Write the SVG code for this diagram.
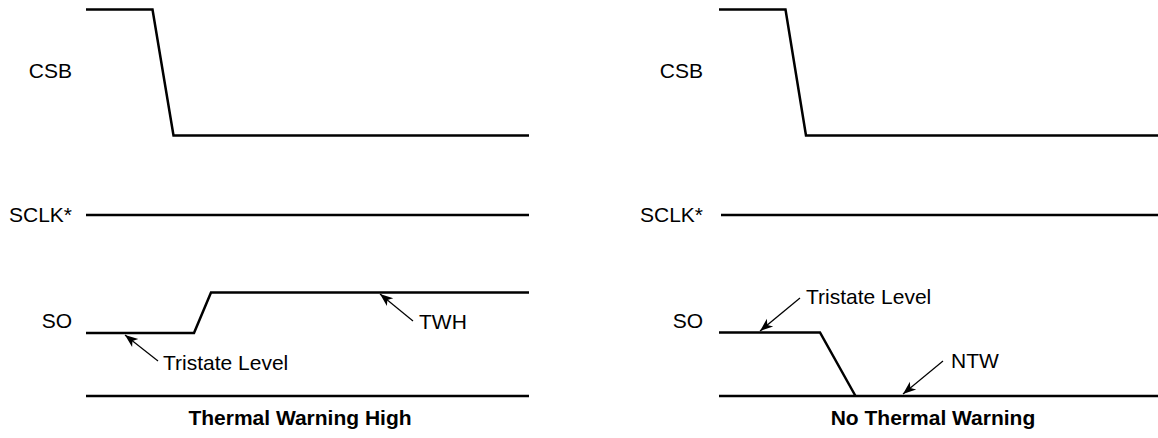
<svg xmlns="http://www.w3.org/2000/svg" width="1158" height="438" viewBox="0 0 1158 438">
<style>
.wave{fill:none;stroke:#000;stroke-width:2.5;stroke-linejoin:miter}
.lead{fill:none;stroke:#000;stroke-width:1.2}
.lbl{font-family:"Liberation Sans",Arial,Helvetica,sans-serif;font-size:21px;fill:#000}
.ttl{font-family:"Liberation Sans",Arial,Helvetica,sans-serif;font-size:21px;font-weight:bold;fill:#000}
</style>
<defs>
<marker id="ah" markerUnits="userSpaceOnUse" markerWidth="16" markerHeight="12" viewBox="-14 -6 16 12" refX="0" refY="0" orient="auto">
<path d="M0,0 L-13,-5 L-9.5,0 L-13,5 Z" fill="#000"/>
</marker>
</defs>
<rect width="1158" height="438" fill="#fff"/>
<g id="left-panel">
<g id="csb-left">
<text class="lbl" x="72" y="78" text-anchor="end">CSB</text>
<polyline class="wave" points="86,9.5 152.5,9.5 173.5,135.5 529,135.5"/>
</g>
<g id="sclk-left">
<text class="lbl" x="72" y="222" text-anchor="end">SCLK*</text>
<line class="wave" x1="86" y1="215" x2="529" y2="215"/>
</g>
<g id="so-left">
<text class="lbl" x="72" y="328" text-anchor="end">SO</text>
<polyline class="wave" points="86,333 194,333 211,292.5 529,292.5"/>
<line class="wave" x1="86" y1="396" x2="529" y2="396"/>
</g>
<g id="label-tristate-left"><text class="lbl" x="163" y="370">Tristate Level</text></g>
<g id="label-twh"><text class="lbl" x="419" y="329">TWH</text></g>
<g id="title-left"><text class="ttl" x="300" y="425" text-anchor="middle">Thermal Warning High</text></g>
</g>
<g id="right-panel">
<g id="csb-right">
<text class="lbl" x="703" y="78" text-anchor="end">CSB</text>
<polyline class="wave" points="719,9.5 785.5,9.5 806,135.5 1160,135.5"/>
</g>
<g id="sclk-right">
<text class="lbl" x="703" y="222" text-anchor="end">SCLK*</text>
<line class="wave" x1="721" y1="215" x2="1160" y2="215"/>
</g>
<g id="so-right">
<text class="lbl" x="703" y="328" text-anchor="end">SO</text>
<polyline class="wave" points="719,332.5 820,332.5 855.5,396"/>
<line class="wave" x1="719" y1="396" x2="1160" y2="396"/>
</g>
<g id="label-tristate-right"><text class="lbl" x="806" y="304">Tristate Level</text></g>
<g id="label-ntw"><text class="lbl" x="951" y="368">NTW</text></g>
<g id="title-right"><text class="ttl" x="933" y="425" text-anchor="middle">No Thermal Warning</text></g>
</g>
<g id="connectors">
<line class="lead" x1="158" y1="361" x2="125" y2="335" marker-end="url(#ah)"/>
<line class="lead" x1="413" y1="321" x2="380" y2="294" marker-end="url(#ah)"/>
<line class="lead" x1="800" y1="298" x2="760" y2="331" marker-end="url(#ah)"/>
<line class="lead" x1="943" y1="361" x2="903" y2="394" marker-end="url(#ah)"/>
</g>
</svg>
